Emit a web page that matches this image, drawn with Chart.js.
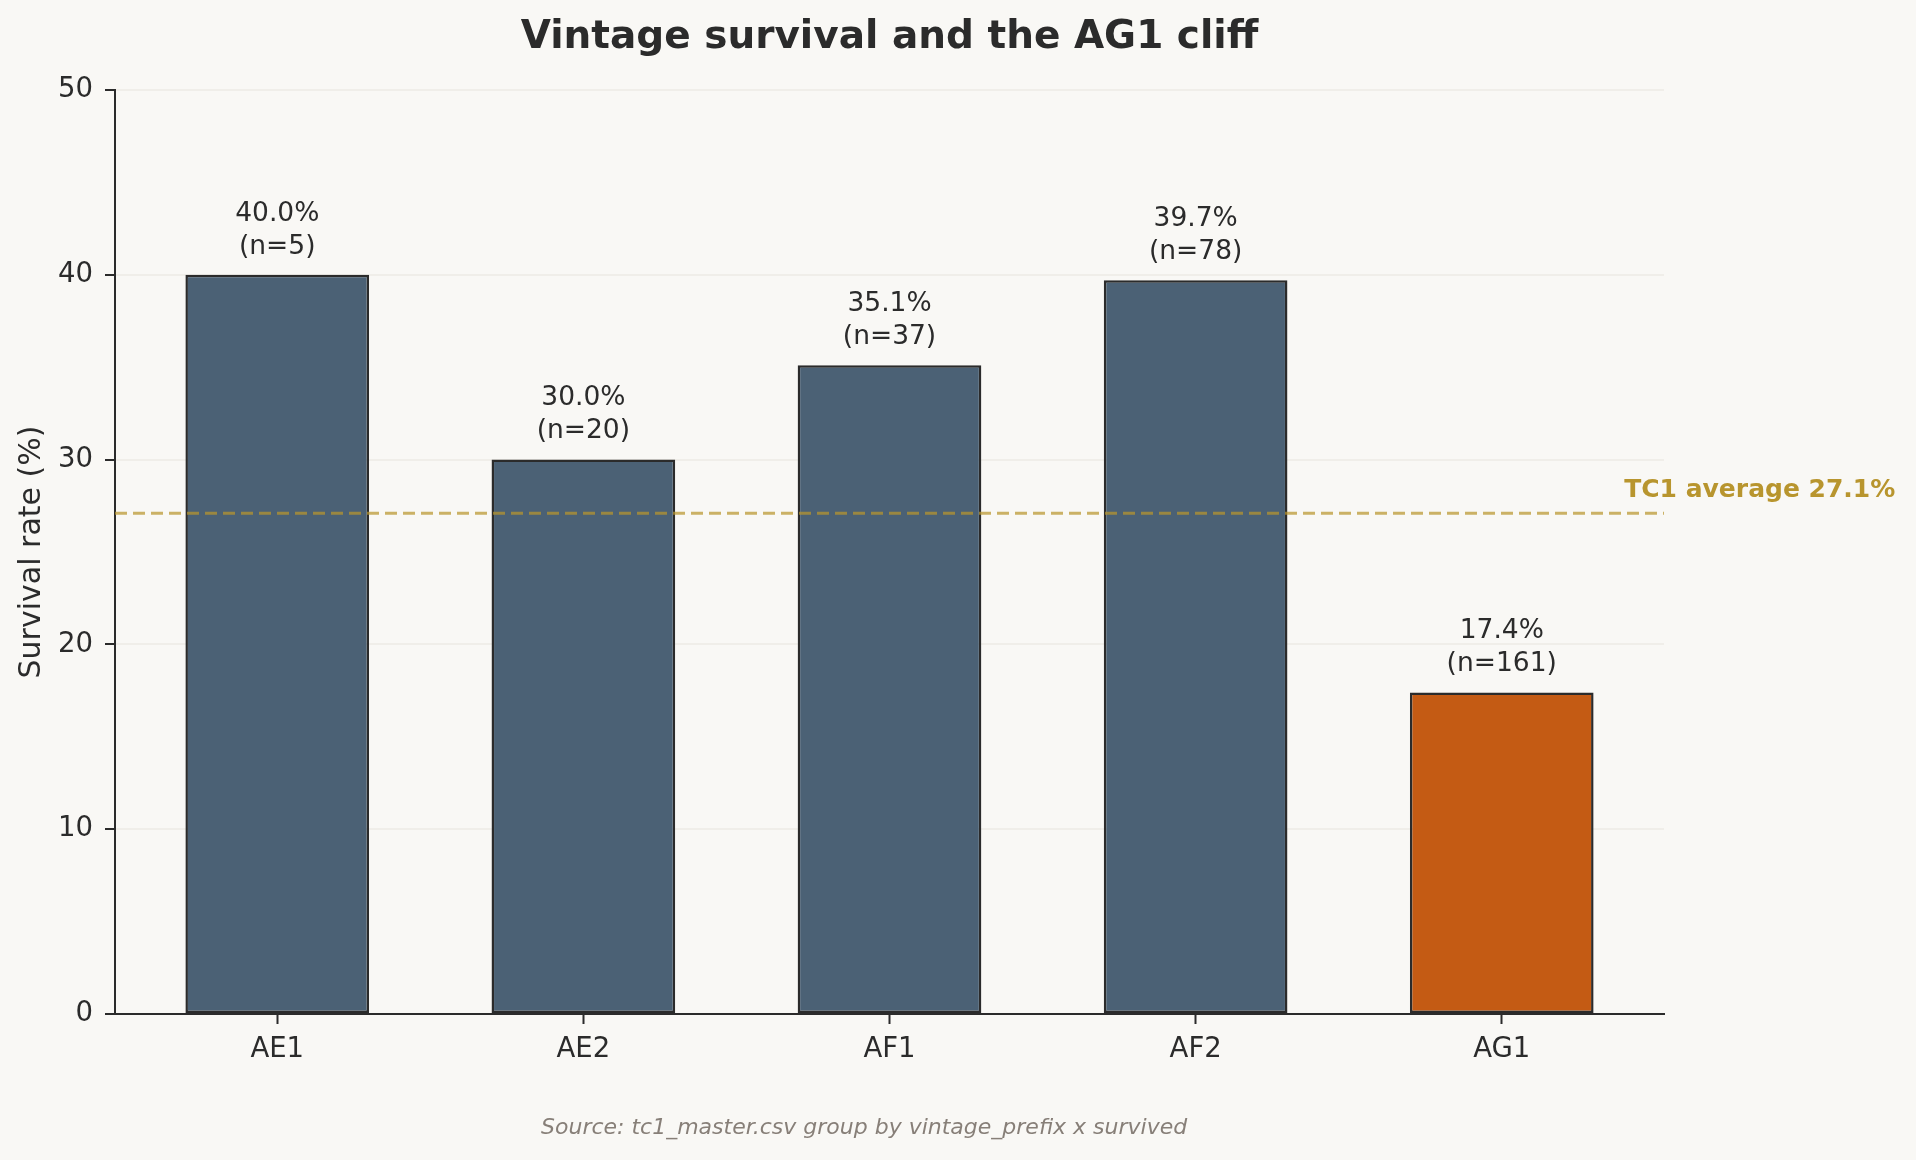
<!DOCTYPE html>
<html>
<head>
<meta charset="utf-8">
<title>Vintage survival and the AG1 cliff</title>
<script src="https://cdn.jsdelivr.net/npm/chart.js@4.4.1/dist/chart.umd.min.js"></script>
<style>
    html, body { margin:0; padding:0; background:#f9f8f5; }
    #caja { width:1916px; height:1160px; position:relative; }
</style>
</head>
<body>
<div id="caja"><canvas id="graficoVintage"></canvas></div>
<script>

// datos
const vintages = ["AE1", "AE2", "AF1", "AF2", "AG1"];

const supervivencia = [40.0, 30.0, 35.1, 39.7, 17.4];

const muestras = [5, 20, 37, 78, 161];

const promedioTC1 = 27.1;

const ticksY = [0, 10, 20, 30, 40, 50];

const TEXTO = "#2b2b2b";
const FUENTE = "'DejaVu Sans', 'Liberation Sans', sans-serif";

const coloresBarras =
vintages.map(
    v => v === "AG1" ? "#c45b14" : "#4b6175"
);

// limites del eje x como en matplotlib (margen 5%)
const xMin = -0.53;
const xMax = vintages.length - 1 + 0.53;

const textosPlugin = {

    id:"textos",

    afterDatasetsDraw(chart){

        const ctx = chart.ctx;
        const area = chart.chartArea;
        const x = chart.scales.x;
        const y = chart.scales.y;

        ctx.save();

        // etiquetas sobre las barras
        const meta = chart.getDatasetMeta(1);

        ctx.fillStyle = TEXTO;
        ctx.textAlign = "center";
        ctx.textBaseline = "middle";
        ctx.font = `26.5px ${FUENTE}`;

        meta.data.forEach((barra, i) => {

            ctx.fillText(
                `${supervivencia[i].toFixed(1)}%`,
                barra.x,
                barra.y - 61
            );

            ctx.fillText(
                `(n=${muestras[i]})`,
                barra.x,
                barra.y - 28
            );

        });

        // etiqueta del promedio
        ctx.fillStyle = "#b8952e";
        ctx.textAlign = "left";
        ctx.font = `bold 25px ${FUENTE}`;
        ctx.fillText(
            `TC1 average ${promedioTC1}%`,
            x.getPixelForValue(4.4),
            y.getPixelForValue(promedioTC1) - 23
        );

        // titulo
        ctx.fillStyle = TEXTO;
        ctx.textAlign = "center";
        ctx.font = `bold 39px ${FUENTE}`;
        ctx.fillText(
            "Vintage survival and the AG1 cliff",
            (area.left + area.right) / 2,
            38
        );

        // fuente
        ctx.fillStyle = "#877f78";
        ctx.font = `italic 22px ${FUENTE}`;
        ctx.fillText(
            "Source: tc1_master.csv group by vintage_prefix x survived",
            chart.width * 0.451,
            1128
        );

        ctx.restore();

    }

};

new Chart(

    document.getElementById(
        "graficoVintage"
    ),

    {

        data:{

            datasets:[

                {
                    type:"line",
                    label:"TC1 average",
                    data:[
                        { x:xMin, y:promedioTC1 },
                        { x:xMax, y:promedioTC1 }
                    ],
                    borderColor:"rgba(184,149,46,0.72)",
                    borderWidth:3,
                    borderDash:[12, 6],
                    pointRadius:0,
                    order:0
                },

                {
                    type:"bar",
                    label:"Survival rate",
                    data:
                    supervivencia.map(
                        (v, i) => ({ x:i, y:v })
                    ),
                    backgroundColor:coloresBarras,
                    borderColor:TEXTO,
                    borderWidth:2.5,
                    borderSkipped:false,
                    categoryPercentage:0.6,
                    barPercentage:1,
                    order:1
                }

            ]

        },

        options:{

            responsive:true,

            maintainAspectRatio:false,

            animation:false,

            layout:{
                padding:{ top:90, right:252, bottom:0, left:0 }
            },

            plugins:{
                legend:{ display:false },
                tooltip:{ enabled:false }
            },

            scales:{

                x:{
                    type:"linear",
                    min:xMin,
                    max:xMax,
                    offset:false,
                    afterBuildTicks:scale => {
                        scale.ticks = vintages.map(
                            (v, i) => ({ value:i })
                        );
                    },
                    afterFit:scale => {
                        scale.height = 146;
                    },
                    ticks:{
                        callback:v => vintages[v],
                        color:TEXTO,
                        font:{ family:FUENTE, size:27.5 },
                        padding:9,
                        maxRotation:0
                    },
                    grid:{
                        offset:false,
                        drawOnChartArea:false,
                        tickColor:TEXTO,
                        tickLength:10,
                        tickWidth:2
                    },
                    border:{ color:TEXTO, width:2 }
                },

                y:{
                    min:0,
                    max:50,
                    afterBuildTicks:scale => {
                        scale.ticks = ticksY.map(
                            v => ({ value:v })
                        );
                    },
                    afterFit:scale => {
                        scale.width = 115;
                    },
                    ticks:{
                        color:TEXTO,
                        font:{ family:FUENTE, size:27.5 },
                        padding:12
                    },
                    grid:{
                        color:"#f0eee9",
                        lineWidth:2,
                        tickColor:TEXTO,
                        tickLength:10,
                        tickWidth:2
                    },
                    border:{ color:TEXTO, width:2 },
                    title:{
                        display:true,
                        text:"Survival rate (%)",
                        color:TEXTO,
                        font:{ family:FUENTE, size:30 },
                        padding:{ top:14, bottom:0 }
                    }
                }

            }

        },

        plugins:[textosPlugin]

    }

);

</script>
</body>
</html>
